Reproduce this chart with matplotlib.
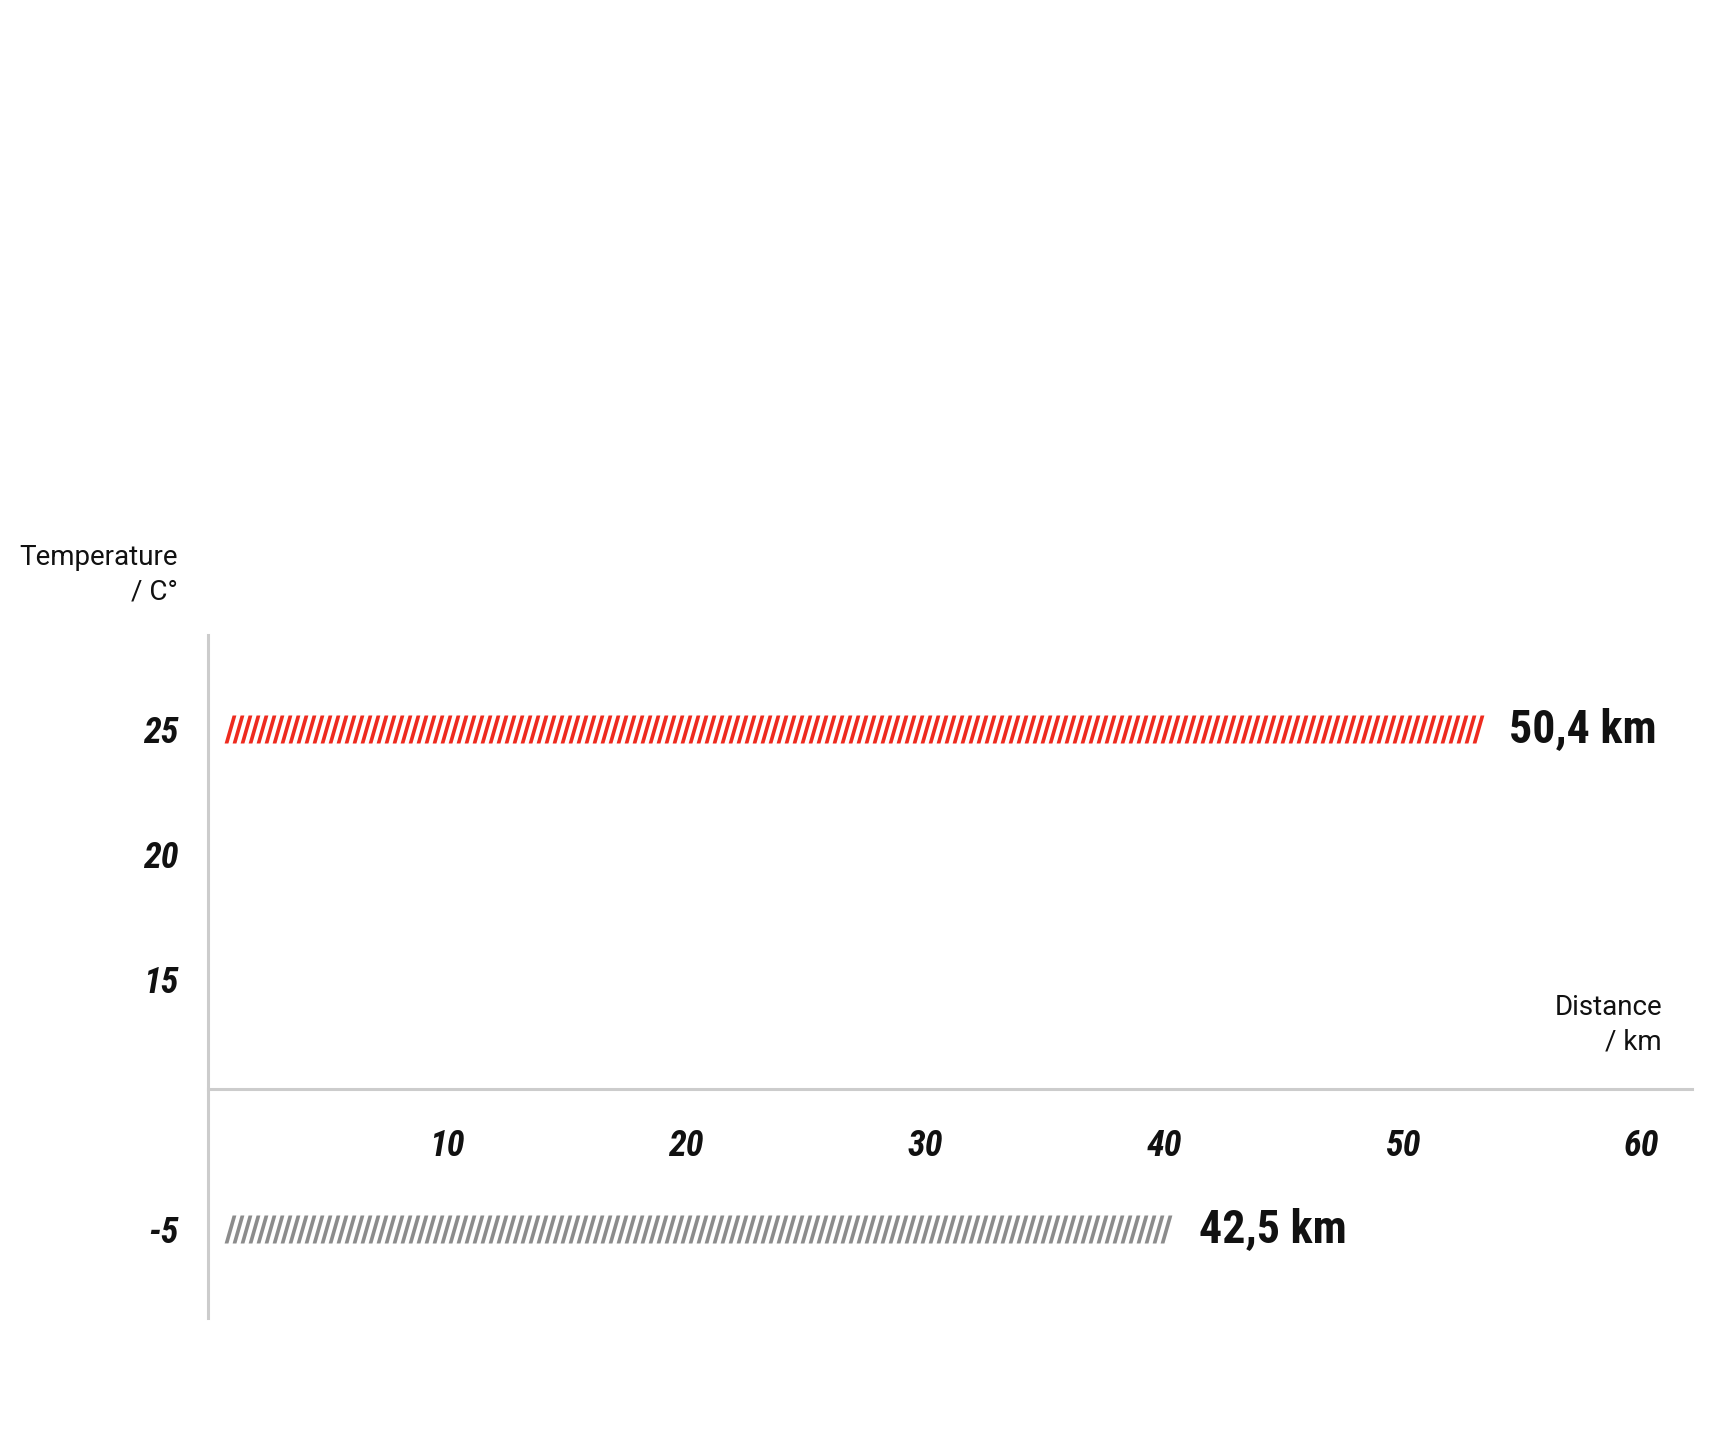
import numpy as np
import matplotlib
matplotlib.use('Agg')
import matplotlib.pyplot as plt
from matplotlib.path import Path
from matplotlib.ticker import FixedLocator, NullLocator

# values
temps = [25, -5]
distance_labels = ['50,4 km', '42,5 km']
bar_start = [0.9, 0.9]
bar_end = [53.3, 40.3]
bar_colors = ['#ee2b1f', '#8c8c8c']
y_ticks = [25, 20, 15, -5]
x_ticks = [10, 20, 30, 40, 50, 60]

DPI = 100
narrow = ['Liberation Sans Narrow', 'Roboto Condensed', 'DejaVu Sans']
plain = ['Roboto', 'DejaVu Sans']

fig = plt.figure(figsize=(17.14, 14.4), dpi=DPI)
ax = fig.add_axes([208 / 1714, 122 / 1440, 1484 / 1714, 683 / 1440])


# broken temperature axis: negative values are pulled up under the distance axis
def fwd(y):
    y = np.asarray(y, dtype=float)
    return np.where(y < 0, y + 10, y)


def inv(t):
    t = np.asarray(t, dtype=float)
    return np.where(t < 10, t - 10, t)


ax.set_yscale('function', functions=(fwd, inv))
ax.set_xlim(0, 62.1)
ax.set_ylim(-8.56, 28.76)

# slanted stripe used as the fill of the bars
h, w, s = 28, 3.8, 4
stripe = Path([(-w / 2 - s, -h / 2), (w / 2 - s, -h / 2), (w / 2 + s, h / 2),
               (-w / 2 + s, h / 2), (-w / 2 - s, -h / 2)],
              [Path.MOVETO, Path.LINETO, Path.LINETO, Path.LINETO, Path.CLOSEPOLY])
step = 0.335

for t, x0, x1, c, lbl in zip(temps, bar_start, bar_end, bar_colors, distance_labels):
    xs = np.arange(x0, x1, step)
    ax.plot(xs, np.full_like(xs, t), linestyle='none', marker=stripe,
            markersize=h * 72 / DPI, color=c, markeredgewidth=0)
    ax.annotate(lbl, (x1, t), xytext=(20, 0), textcoords='offset points',
                ha='left', va='center', fontsize=33, fontweight='bold',
                family=narrow, color='#111111')

for side in ['top', 'right']:
    ax.spines[side].set_visible(False)
for side in ['left', 'bottom']:
    ax.spines[side].set_color('#cccccc')
    ax.spines[side].set_linewidth(2.2)
ax.spines['bottom'].set_position(('data', 10.6))

ax.yaxis.set_major_locator(FixedLocator(y_ticks))
ax.yaxis.set_minor_locator(NullLocator())
ax.set_yticklabels([str(v) for v in y_ticks])
ax.set_xticks(x_ticks)
ax.set_xticklabels([str(v) for v in x_ticks])
ax.tick_params(axis='y', length=0, pad=21)
ax.tick_params(axis='x', length=0, pad=28)
for lab in ax.get_xticklabels() + ax.get_yticklabels():
    lab.set_family(narrow)
    lab.set_fontstyle('italic')
    lab.set_fontweight('bold')
    lab.set_fontsize(26)
    lab.set_color('#111111')

fig.text(178 / 1714, 1 - 575 / 1440, 'Temperature\n/ C°', ha='right', va='center',
         multialignment='right', fontsize=20, family=plain, color='#111111',
         linespacing=1.35)
fig.text(1662 / 1714, 1 - 1025 / 1440, 'Distance\n/ km', ha='right', va='center',
         multialignment='right', fontsize=20, family=plain, color='#111111',
         linespacing=1.35)

fig.savefig('out.png', dpi=DPI)
